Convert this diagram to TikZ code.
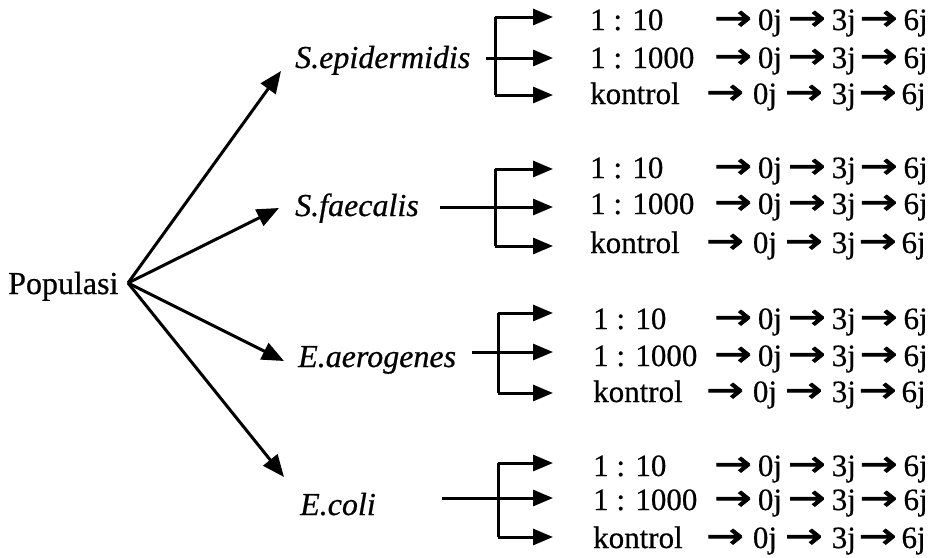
\documentclass[tikz,border=0pt]{standalone}
\usepackage{fontspec}
\setmainfont[FakeBold=0.6]{Liberation Serif}
\newfontfamily\arrfont[FakeBold=2]{DejaVu Sans}
\usetikzlibrary{arrows.meta,calc}
\newcommand{\Ar}{{\arrfont\fontsize{36}{38}\selectfont\hspace{-4pt}\scalebox{1.25}[1]{→}\hspace{-4pt}}}
\newcommand{\seqrow}{\Ar\hspace{10pt}0j\hspace{10pt}\Ar\hspace{10pt}3j\hspace{8pt}\Ar\hspace{10pt}6j}
\newcommand{\seqk}{\Ar\hspace{13pt}0j\hspace{12pt}\Ar\hspace{13pt}3j\hspace{7pt}\Ar\hspace{9pt}6j}
\begin{document}
\begin{tikzpicture}[x=1pt,y=-1pt,
  txt/.style={font=\fontsize{31}{33}\selectfont, inner sep=0pt, anchor=base west},
  sp/.style={font=\fontsize{32}{34}\selectfont\itshape, inner sep=0pt, anchor=base west},
  big/.style={line width=3pt, -{Triangle[length=22pt,width=18pt]}},
  br/.style={line width=3pt},
  brarr/.style={line width=3pt, -{Triangle[length=20pt,width=16pt]}}]
\useasboundingbox (0,0) rectangle (942,557);
\fill[white] (0,0) rectangle (942,557);

\node[txt, font=\fontsize{32}{34}\selectfont] (pop) at (8,294) {Populasi};
\coordinate (o) at (128,283);

\node[sp] (s1) at (295,68) {S.epidermidis};
\node[sp] (s2) at (295,216) {S.faecalis};
\node[sp] (s3) at (298,367) {E.aerogenes};
\node[sp] (s4) at (300,515) {E.coli};

\coordinate (t1) at (281,71);
\coordinate (t2) at (279,208);
\coordinate (t3) at (284,361);
\coordinate (t4) at (284,477);
\foreach \i in {1,2,3,4} \draw[big] (o) -- (t\i);

% group brackets: x of vertical, top, mid, bottom, start of middle line
\foreach \g/\bx/\ta/\mi/\bo/\st in {1/495/17/58/95/486, 2/495/169/207/246/440, 3/498/313/352/393/472, 4/498/463/498/537/442}{
  \coordinate (v\g t) at (\bx,\ta);
  \coordinate (v\g b) at (\bx,\bo);
  \coordinate (m\g s) at (\st,\mi);
  \coordinate (a\g t) at (553,\ta);
  \coordinate (a\g m) at (553,\mi);
  \coordinate (a\g b) at (553,\bo);
  \draw[br] (v\g t) -- (v\g b);
  \draw[brarr] (v\g t) -- (a\g t);
  \draw[brarr] (m\g s) -- (a\g m);
  \draw[brarr] (v\g b) -- (a\g b);
}

% texts
\foreach \g/\ya/\yb/\yc/\xa in {1/30/68/104/590, 2/178/214/253/590, 3/329/366/402/593, 4/476/510/548/593}{
  \node[txt] (r\g a) at (\xa,\ya) {1 : 10};
  \node[txt] (r\g b) at (\xa,\yb) {1 : 1000};
  \node[txt] (r\g c) at (\xa,\yc) {kontrol};
  \node[txt] (q\g a) at (718,\ya) {\seqrow};
  \node[txt] (q\g b) at (718,\yb) {\seqrow};
  \node[txt] (q\g c) at (710,\yc) {\seqk};
}
\end{tikzpicture}
\end{document}
